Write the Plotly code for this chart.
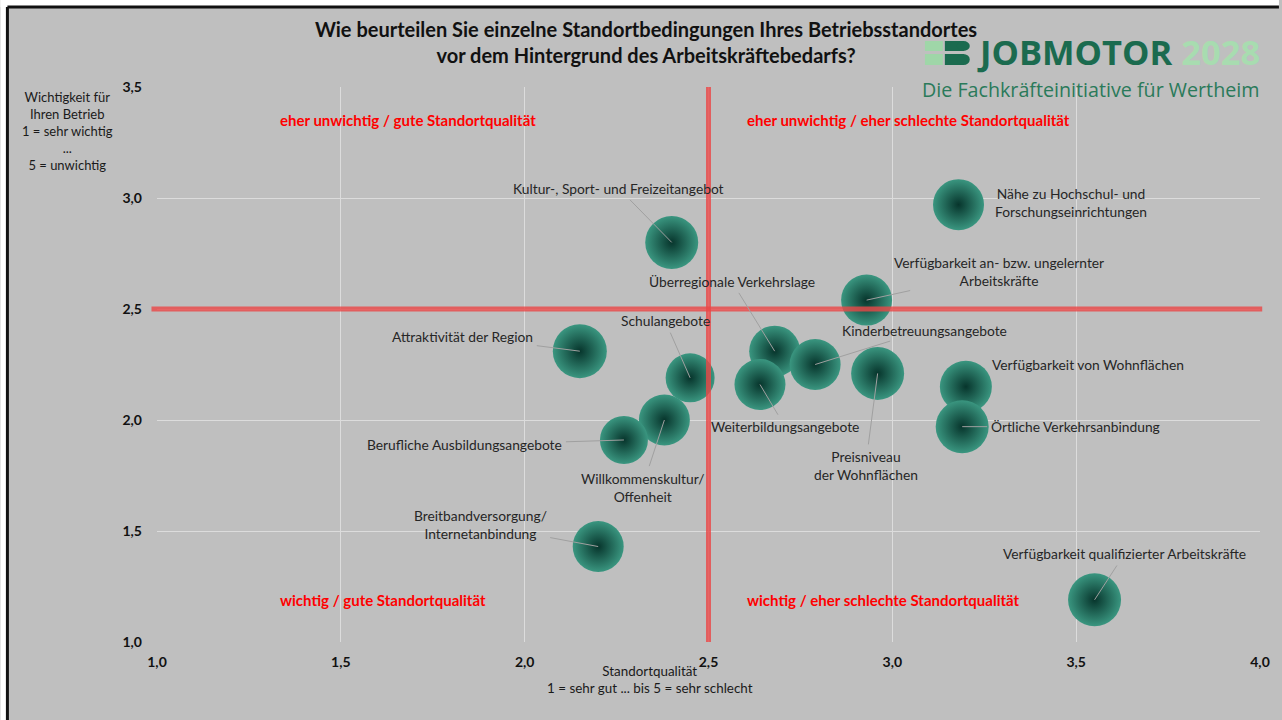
import plotly.graph_objects as go

# Standortfaktoren: Qualität (x), Wichtigkeit (y), Blasengröße
faktoren = [
    "Kultur-, Sport- und Freizeitangebot",
    "Nähe zu Hochschul- und<br>Forschungseinrichtungen",
    "Verfügbarkeit an- bzw. ungelernter<br>Arbeitskräfte",
    "Überregionale Verkehrslage",
    "Attraktivität der Region",
    "Schulangebote",
    "Kinderbetreuungsangebote",
    "Weiterbildungsangebote",
    "Preisniveau<br>der Wohnflächen",
    "Verfügbarkeit von Wohnflächen",
    "Örtliche Verkehrsanbindung",
    "Willkommenskultur/<br>Offenheit",
    "Berufliche Ausbildungsangebote",
    "Breitbandversorgung/<br>Internetanbindung",
    "Verfügbarkeit qualifizierter Arbeitskräfte",
]
qualitaet = [2.40, 3.18, 2.93, 2.68, 2.15, 2.45, 2.79, 2.64, 2.96, 3.20, 3.19, 2.38, 2.27, 2.20, 3.55]
wichtigkeit = [2.80, 2.97, 2.54, 2.31, 2.31, 2.19, 2.25, 2.16, 2.21, 2.15, 1.97, 2.00, 1.91, 1.43, 1.19]
blasen = [53, 51, 51, 51, 54, 49, 51, 51, 53, 52, 53, 51, 48, 51, 53]

x_ticks = [1.0, 1.5, 2.0, 2.5, 3.0, 3.5, 4.0]
y_ticks = [1.0, 1.5, 2.0, 2.5, 3.0, 3.5]
schwelle = 2.5

# label offsets (px) relative to bubble: ax, ay, leader line
label_pos = [
    (-53, -54, True), (112, -2, False), (132, -29, True), (-43, -70, True),
    (-117, -15, True), (-25, -57, True), (109, -34, True), (25, 42, True),
    (-12, 92, True), (122, -22, False), (113, 0, True), (-22, 67, True),
    (-159, 5, True), (-118, -22, True), (30, -46, True),
]

W, H = 1282, 720
L, R, T, B = 157, 19, 87, 78
FONT = "Lato"


def px(xp, yp):
    # pixel -> paper coords
    return (xp - L) / (W - L - R), (H - B - yp) / (H - T - B)


fig = go.Figure()
fig.add_trace(go.Scatter(
    x=qualitaet, y=wichtigkeit, mode="markers",
    marker=dict(size=blasen, sizemode="diameter", color="#3a9680",
                gradient=dict(type="radial", color="#07352c"),
                line=dict(width=0), opacity=1),
    hovertext=[f.replace("<br>", " ") for f in faktoren], hoverinfo="text+x+y",
    showlegend=False,
))

for f, xv, yv, (ax, ay, arrow) in zip(faktoren, qualitaet, wichtigkeit, label_pos):
    if arrow:
        fig.add_annotation(x=xv, y=yv, text=f, showarrow=True, ax=ax, ay=ay,
                           arrowhead=0, arrowwidth=1, arrowcolor="#a0a0a0",
                           standoff=0, startstandoff=2,
                           font=dict(family=FONT, size=13.8, color="#262626"))
    else:
        fig.add_annotation(x=xv, y=yv, text=f, showarrow=False, xshift=ax, yshift=-ay,
                           font=dict(family=FONT, size=13.8, color="#262626"))

# quadrant labels
quad = [
    (1.33, 3.35, "eher unwichtig / gute Standortqualität"),
    (2.60, 3.35, "eher unwichtig / eher schlechte Standortqualität"),
    (1.33, 1.19, "wichtig / gute Standortqualität"),
    (2.60, 1.19, "wichtig / eher schlechte Standortqualität"),
]
for xq, yq, t in quad:
    fig.add_annotation(x=xq, y=yq, text=f"<b>{t}</b>", showarrow=False, xanchor="left",
                       font=dict(family=FONT, size=15, color="#ff0000"))

# red threshold lines
fig.add_shape(type="line", x0=schwelle, x1=schwelle, y0=0, y1=1, xref="x", yref="paper",
              line=dict(color="rgba(235,70,70,0.8)", width=5), layer="above")
fig.add_shape(type="line", x0=-0.005, x1=1.002, y0=schwelle, y1=schwelle, xref="paper", yref="y",
              line=dict(color="rgba(235,70,70,0.8)", width=5), layer="above")

# frame (white margin + black border top/left)
x0, y1 = px(7, 7)
fig.add_shape(type="rect", xref="paper", yref="paper", x0=px(0, 0)[0], x1=x0, y0=px(0, 720)[1], y1=px(0, 0)[1],
              fillcolor="white", line=dict(width=0), layer="above")
fig.add_shape(type="rect", xref="paper", yref="paper", x0=px(0, 0)[0], x1=px(1282, 0)[0], y0=y1, y1=px(0, 0)[1],
              fillcolor="white", line=dict(width=0), layer="above")
fig.add_shape(type="line", xref="paper", yref="paper", x0=x0, x1=x0, y0=y1, y1=px(0, 720)[1],
              line=dict(color="#111", width=3), layer="above")
fig.add_shape(type="line", xref="paper", yref="paper", x0=x0, x1=px(1282, 0)[0], y0=y1, y1=y1,
              line=dict(color="#111", width=3), layer="above")

# logo icon
light, dark = "#9fd6a8", "#1b6b4f"
for ya, yb in [(41, 51), (54, 65)]:
    a0, a1 = px(927, yb), px(945, ya)
    fig.add_shape(type="rect", xref="paper", yref="paper", x0=a0[0], y0=a0[1], x1=a1[0], y1=a1[1],
                  fillcolor=light, line=dict(width=0))
    b0, b1 = px(947, yb), px(966, ya)
    fig.add_shape(type="rect", xref="paper", yref="paper", x0=b0[0], y0=b0[1], x1=b1[0], y1=b1[1],
                  fillcolor=dark, line=dict(width=0))
    c0, c1 = px(959, yb), px(972, ya)
    fig.add_shape(type="circle", xref="paper", yref="paper", x0=c0[0], y0=c0[1], x1=c1[0], y1=c1[1],
                  fillcolor=dark, line=dict(width=0))

lx, ly = px(977, 52)
fig.add_annotation(xref="paper", yref="paper", x=lx, y=ly, xanchor="left", yanchor="middle",
                   text="<b><span style='color:#1b6b4f'>JOBMOTOR</span> <span style='color:#a8dcb0'>2028</span></b>",
                   showarrow=False, font=dict(family="Open Sans", size=34.5))
sx, sy = px(1264, 90)
fig.add_annotation(xref="paper", yref="paper", x=sx, y=sy, xanchor="right", yanchor="middle",
                   text="Die Fachkräfteinitiative für Wertheim", showarrow=False,
                   font=dict(family="Open Sans", size=19.7, color="#2a7a5a"))

# axis titles
tx, ty = px(67, 131)
fig.add_annotation(xref="paper", yref="paper", x=tx, y=ty, xanchor="center", yanchor="middle",
                   showarrow=False,
                   text="Wichtigkeit für<br>Ihren Betrieb<br>1 = sehr wichtig<br>...<br>5 = unwichtig",
                   font=dict(family=FONT, size=13, color="#1a1a1a"))
ax_, ay_ = px(651, 679)
fig.add_annotation(xref="paper", yref="paper", x=ax_, y=ay_, xanchor="center", yanchor="middle",
                   showarrow=False,
                   text="Standortqualität<br>1 = sehr gut ... bis 5 = sehr schlecht",
                   font=dict(family=FONT, size=13.4, color="#1a1a1a"))

fig.update_layout(
    width=W, height=H,
    margin=dict(l=L, r=R, t=T, b=B),
    paper_bgcolor="#bfbfbf", plot_bgcolor="#bfbfbf",
    separators=",.",
    title=dict(text="<b>Wie beurteilen Sie einzelne Standortbedingungen Ihres Betriebsstandortes<br>vor dem Hintergrund des Arbeitskräftebedarfs?</b>",
               x=646 / W, xanchor="center", y=1 - 37 / H, yanchor="middle",
               font=dict(family=FONT, size=20, color="#111")),
    xaxis=dict(range=[1, 4], tickvals=x_ticks, tickformat=".1f", showgrid=True,
               gridcolor="#dcdcdc", gridwidth=1, zeroline=False, showline=False,
               ticks="", ticklabelstandoff=10,
               tickfont=dict(family=FONT, size=14, color="#111", weight="bold")),
    yaxis=dict(range=[1, 3.5], tickvals=y_ticks, tickformat=".1f", showgrid=True,
               gridcolor="#dcdcdc", gridwidth=1, zeroline=False, showline=False,
               ticks="", ticklabelstandoff=14,
               tickfont=dict(family=FONT, size=14, color="#111", weight="bold")),
)

fig.write_html("out.html", config={"displayModeBar": False},
               post_script="document.body.style.margin='0';")
